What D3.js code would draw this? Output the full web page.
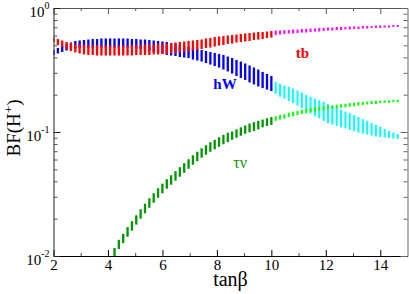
<!DOCTYPE html>
<html>
<head>
<meta charset="utf-8">
<script src="https://cdn.jsdelivr.net/npm/d3@7"></script>
<style>
body { margin: 0; background: #fff; }
svg text { font-family: "Liberation Serif", "DejaVu Serif", serif; }
</style>
</head>
<body>
<svg id="chart" width="409" height="294"></svg>
<script>
// tanb scan points (one bar per point)
var tanb = [2, 2.16, 2.32, 2.48, 2.64, 2.8, 2.96, 3.12, 3.28, 3.44, 3.6, 3.76, 3.92, 4.08, 4.24, 4.4, 4.56, 4.72, 4.88, 5.04,
	5.2, 5.36, 5.52, 5.68, 5.84, 6, 6.16, 6.32, 6.48, 6.64, 6.8, 6.96, 7.12, 7.28, 7.44, 7.6, 7.76, 7.92, 8.08, 8.24,
	8.4, 8.56, 8.72, 8.88, 9.04, 9.2, 9.36, 9.52, 9.68, 9.84, 10, 10.16, 10.32, 10.48, 10.64, 10.8, 10.96, 11.12, 11.28, 11.44,
	11.6, 11.76, 11.92, 12.08, 12.24, 12.4, 12.56, 12.72, 12.88, 13.04, 13.2, 13.36, 13.52, 13.68, 13.84, 14, 14.16, 14.32, 14.48, 14.64];

// BF(H+ -> tb) upper / lower edge of each bar
var tbHi = [0.578, 0.562, 0.547, 0.532, 0.522, 0.513, 0.508, 0.503, 0.503, 0.503, 0.503, 0.498, 0.498, 0.498, 0.498, 0.498, 0.498, 0.498, 0.503, 0.503,
	0.503, 0.508, 0.508, 0.508, 0.513, 0.513, 0.517, 0.522, 0.527, 0.532, 0.537, 0.542, 0.547, 0.552, 0.557, 0.568, 0.573, 0.583, 0.589, 0.594,
	0.600, 0.605, 0.611, 0.617, 0.623, 0.628, 0.634, 0.640, 0.640, 0.646, 0.652, 0.658, 0.658, 0.664, 0.664, 0.671, 0.671, 0.677, 0.677, 0.683,
	0.683, 0.690, 0.690, 0.696, 0.696, 0.703, 0.703, 0.703, 0.709, 0.709, 0.709, 0.716, 0.716, 0.716, 0.723, 0.723, 0.723, 0.723, 0.729, 0.729];
var tbLo = [0.532, 0.503, 0.485, 0.467, 0.450, 0.438, 0.430, 0.422, 0.418, 0.418, 0.414, 0.414, 0.414, 0.414, 0.414, 0.414, 0.414, 0.414, 0.414, 0.418,
	0.418, 0.418, 0.418, 0.422, 0.422, 0.426, 0.426, 0.430, 0.434, 0.438, 0.442, 0.446, 0.454, 0.458, 0.467, 0.476, 0.480, 0.489, 0.498, 0.503,
	0.513, 0.517, 0.527, 0.532, 0.537, 0.542, 0.552, 0.557, 0.562, 0.573, 0.578, 0.605, 0.611, 0.617, 0.623, 0.623, 0.628, 0.634, 0.634, 0.640,
	0.646, 0.646, 0.652, 0.658, 0.658, 0.664, 0.664, 0.671, 0.671, 0.677, 0.677, 0.683, 0.683, 0.690, 0.690, 0.690, 0.696, 0.696, 0.703, 0.703];

// BF(H+ -> hW)
var hwHi = [0.458, 0.476, 0.494, 0.513, 0.527, 0.542, 0.547, 0.552, 0.557, 0.562, 0.562, 0.568, 0.568, 0.568, 0.568, 0.568, 0.568, 0.568, 0.562, 0.562,
	0.557, 0.557, 0.552, 0.547, 0.542, 0.537, 0.532, 0.522, 0.513, 0.503, 0.494, 0.485, 0.476, 0.467, 0.458, 0.450, 0.442, 0.434, 0.426, 0.418,
	0.406, 0.395, 0.381, 0.370, 0.357, 0.344, 0.331, 0.319, 0.305, 0.294, 0.283, 0.253, 0.244, 0.237, 0.231, 0.224, 0.216, 0.208, 0.199, 0.192,
	0.186, 0.180, 0.175, 0.168, 0.162, 0.156, 0.151, 0.146, 0.142, 0.137, 0.132, 0.127, 0.123, 0.118, 0.114, 0.110, 0.106, 0.102, 0.0991, 0.0964];
var hwLo = [0.418, 0.430, 0.442, 0.454, 0.463, 0.471, 0.476, 0.480, 0.480, 0.480, 0.480, 0.480, 0.480, 0.480, 0.480, 0.480, 0.480, 0.480, 0.476, 0.471,
	0.467, 0.458, 0.450, 0.442, 0.434, 0.426, 0.418, 0.414, 0.410, 0.403, 0.399, 0.395, 0.384, 0.377, 0.370, 0.360, 0.350, 0.340, 0.331, 0.319,
	0.308, 0.296, 0.283, 0.273, 0.263, 0.251, 0.242, 0.233, 0.226, 0.220, 0.214, 0.203, 0.193, 0.186, 0.178, 0.171, 0.164, 0.156, 0.148, 0.141,
	0.135, 0.129, 0.123, 0.118, 0.115, 0.112, 0.109, 0.107, 0.104, 0.102, 0.0991, 0.0972, 0.0954, 0.0937, 0.0920, 0.0911, 0.0903, 0.0895, 0.0886, 0.0878];

// BF(H+ -> tau nu), starts at tanb ~4.2
var tnHi = [null, null, null, null, null, null, null, null, null, null, null, null, null, null, 0.0116, 0.0135, 0.0151, 0.0171, 0.0191, 0.0213,
	0.0238, 0.0264, 0.0292, 0.0321, 0.0352, 0.0383, 0.0416, 0.0448, 0.0483, 0.0520, 0.0560, 0.0603, 0.0649, 0.0693, 0.0740, 0.0782, 0.0827, 0.0866, 0.0907, 0.0950,
	0.0986, 0.101, 0.105, 0.109, 0.113, 0.117, 0.120, 0.123, 0.126, 0.129, 0.132, 0.134, 0.137, 0.139, 0.143, 0.146, 0.148, 0.151, 0.153, 0.156,
	0.158, 0.159, 0.161, 0.163, 0.164, 0.166, 0.167, 0.169, 0.171, 0.172, 0.174, 0.175, 0.176, 0.178, 0.178, 0.179, 0.180, 0.180, 0.182, 0.182];
var tnLo = [null, null, null, null, null, null, null, null, null, null, null, null, null, null, 0.0093, 0.0114, 0.0127, 0.0143, 0.0160, 0.0179,
	0.0200, 0.0221, 0.0245, 0.0269, 0.0295, 0.0321, 0.0349, 0.0376, 0.0405, 0.0436, 0.0469, 0.0505, 0.0544, 0.0581, 0.0620, 0.0656, 0.0693, 0.0726, 0.0760, 0.0796,
	0.0827, 0.0866, 0.0899, 0.0933, 0.0968, 0.0995, 0.102, 0.105, 0.109, 0.112, 0.114, 0.123, 0.126, 0.128, 0.132, 0.134, 0.137, 0.140, 0.142, 0.145,
	0.146, 0.148, 0.149, 0.153, 0.154, 0.155, 0.157, 0.158, 0.160, 0.161, 0.163, 0.165, 0.167, 0.168, 0.168, 0.171, 0.172, 0.172, 0.174, 0.174];

var tanbSwitch = 10.05; // above this the lighter colour is used

var xMajor = [2, 4, 6, 8, 10, 12, 14];
var xMinor = [3, 5, 7, 9, 11, 13];
var yMajor = [0.01, 0.1, 1];
var yMajorLabels = ["-2", "-1", "0"];
var yMinor = [0.02, 0.03, 0.04, 0.05, 0.06, 0.07, 0.08, 0.09, 0.2, 0.3, 0.4, 0.5, 0.6, 0.7, 0.8, 0.9];

var serif = '"Liberation Serif", "DejaVu Serif", serif';

var svg = d3.select("#chart"),
	margin = {top: 8, right: 1.5, bottom: 38, left: 53.5},
	width = +svg.attr("width") - margin.left - margin.right,
	height = +svg.attr("height") - margin.top - margin.bottom,
	g = svg.append("g").attr("transform", "translate(" + margin.left + "," + margin.top + ")");

var x = d3.scaleLinear().domain([2, 15]).range([0, width]);
var y = d3.scaleLog().domain([0.01, 1]).range([height, 0]);

svg.append("defs").append("clipPath").attr("id", "plotclip")
	.append("rect").attr("width", width).attr("height", height);

// draw order: hW under tb, tau nu on top
var series = [
	{name: "hW", hi: hwHi, lo: hwLo, dark: "#0000ff", light: "#00ffff"},
	{name: "tb", hi: tbHi, lo: tbLo, dark: "#ff0000", light: "#ff00ff"},
	{name: "tn", hi: tnHi, lo: tnLo, dark: "#009600", light: "#00ff00"}
];

var bars = g.append("g").attr("clip-path", "url(#plotclip)");

series.forEach(function(s) {
	var pts = tanb.map(function(t, i) { return {t: t, hi: s.hi[i], lo: s.lo[i]}; })
		.filter(function(d) { return d.hi != null; });
	bars.append("g")
		.attr("class", "serie " + s.name)
		.selectAll("rect")
		.data(pts)
		.enter().append("rect")
		.attr("x", function(d) { return x(d.t) - (d.t > tanbSwitch ? 1 : 1.15); })
		.attr("width", function(d) { return d.t > tanbSwitch ? 2 : 2.3; })
		.attr("y", function(d) { return y(d.hi); })
		.attr("height", function(d) { return y(d.lo) - y(d.hi); })
		.attr("fill", function(d) { return d.t > tanbSwitch ? s.light : s.dark; });
});

// axes, ticks pointing inward
function styleAxis(sel, col) {
	sel.attr("font-family", serif);
	sel.selectAll(".tick line").attr("stroke", col);
	sel.select(".domain").attr("stroke", col);
}

var axBot = g.append("g")
	.attr("transform", "translate(0," + height + ")")
	.call(d3.axisBottom(x).tickValues(xMajor).tickSize(-6).tickSizeOuter(0).tickPadding(3.5).tickFormat(d3.format("d")));
axBot.attr("font-size", 15).selectAll("text").attr("fill", "#000");
styleAxis(axBot, "#000");

var axBotMin = g.append("g")
	.attr("transform", "translate(0," + height + ")")
	.call(d3.axisBottom(x).tickValues(xMinor).tickSize(-3).tickFormat(""));
axBotMin.select(".domain").remove();
styleAxis(axBotMin, "#444");

var axTop = g.append("g")
	.call(d3.axisTop(x).tickValues(xMajor).tickSize(-6).tickSizeOuter(0).tickFormat(""));
styleAxis(axTop, "#555");
var axTopMin = g.append("g")
	.call(d3.axisTop(x).tickValues(xMinor).tickSize(-3).tickFormat(""));
axTopMin.select(".domain").remove();
styleAxis(axTopMin, "#555");

var axLeft = g.append("g")
	.call(d3.axisLeft(y).tickValues(yMajor).tickSize(-7).tickSizeOuter(0).tickFormat(""));
styleAxis(axLeft, "#222");
var axLeftMin = g.append("g")
	.call(d3.axisLeft(y).tickValues(yMinor).tickSize(-4).tickFormat(""));
axLeftMin.select(".domain").remove();
styleAxis(axLeftMin, "#555");

var axRight = g.append("g")
	.attr("transform", "translate(" + width + ",0)")
	.call(d3.axisRight(y).tickValues(yMajor).tickSize(-7).tickSizeOuter(0).tickFormat(""));
styleAxis(axRight, "#666");
var axRightMin = g.append("g")
	.attr("transform", "translate(" + width + ",0)")
	.call(d3.axisRight(y).tickValues(yMinor).tickSize(-4).tickFormat(""));
axRightMin.select(".domain").remove();
styleAxis(axRightMin, "#666");

// y tick labels 10^n
var ylab = g.selectAll(".ylab")
	.data(yMajor)
	.enter().append("text")
	.attr("class", "ylab")
	.attr("x", -4)
	.attr("y", function(d) { return y(d) + 9; })
	.attr("text-anchor", "end")
	.attr("font-size", 15);
ylab.append("tspan").text("10");
ylab.append("tspan")
	.attr("dy", -8)
	.attr("font-size", 10)
	.text(function(d, i) { return yMajorLabels[i]; });

// axis titles
g.append("text")
	.attr("x", width / 2)
	.attr("y", height + 30)
	.attr("text-anchor", "middle")
	.attr("font-size", 20)
	.text("tanβ");

var yt = svg.append("text")
	.attr("transform", "translate(20," + (margin.top + y(0.1) - 4) + ") rotate(-90)")
	.attr("text-anchor", "middle")
	.attr("font-size", 19);
yt.append("tspan").text("BF(H");
yt.append("tspan").attr("dy", -7).attr("font-size", 13).text("+");
yt.append("tspan").attr("dy", 7).text(")");

// curve labels
g.append("text").attr("x", x(10.9)).attr("y", y(0.4) + 1)
	.attr("font-size", 15).attr("font-weight", "bold").attr("fill", "#ff0000").text("tb");
g.append("text").attr("x", x(7.87)).attr("y", y(0.22) - 1)
	.attr("font-size", 15).attr("font-weight", "bold").attr("fill", "#0000ff").text("hW");
g.append("text").attr("x", x(8.6)).attr("y", y(0.051))
	.attr("font-size", 16).attr("fill", "#009600").text("τν");
</script>
</body>
</html>
